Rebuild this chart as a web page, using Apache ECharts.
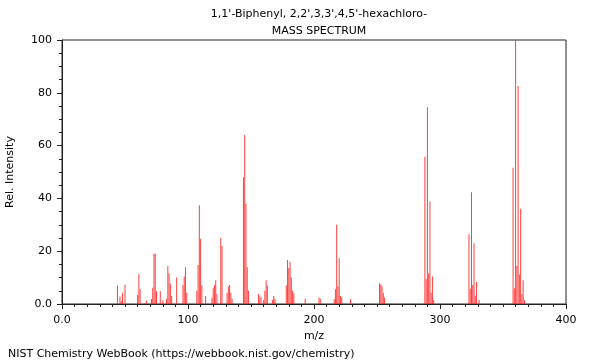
<!DOCTYPE html>
<html><head><meta charset="utf-8">
<script src="https://cdn.jsdelivr.net/npm/echarts@6/dist/echarts.min.js"></script>
<style>html,body{margin:0;padding:0;background:#fff}#c{width:600px;height:360px}</style>
</head><body><div id="c"></div>
<script>
const titleLines = ["1,1'-Biphenyl, 2,2',3,3',4,5'-hexachloro-", "MASS SPECTRUM"];
const xAxisTitle = "m/z";
const yAxisTitle = "Rel. Intensity";
const footerText = "NIST Chemistry WebBook (https://webbook.nist.gov/chemistry)";

const mz = [44,46,47,48,50,
  60,61,62,67,
  71,72,73,74,75,78,80,
  83,84,85,86,87,91,
  96,97,98,99,
  107,108,109,110,111,114,
  119,120,121,122,123,
  126,127,
  131,132,133,134,135,
  144,145,146,147,148,
  156,157,158,160,161,162,163,
  167,168,169,
  178,179,180,181,182,183,184,
  193,204,205,
  216,217,218,219,220,221,222,
  229,
  252,253,254,255,256,
  288,289,290,291,292,293,294,295,
  323,324,325,326,327,328,329,331,
  358,359,360,361,362,363,364,365,366,367];
const relIntensity = [7,2.8,1.2,4.3,7.3,
  3.4,11.4,5.6,1.3,
  1.9,6.2,19,19,4.8,4.8,1.4,
  2,14.4,11.6,7.8,3,10,
  7.2,10.4,13.9,4.3,
  5,14.8,37.4,24.7,7,3,
  2.4,6,7.2,9,3.8,
  25,22,
  4.3,6.6,7.2,4.3,2,
  48,64,38,14,5,
  3.8,2.8,2.5,1.5,5,9,7,
  1.5,3,2,
  7,16.7,13.6,16,10,5,4,
  2,2.5,2,
  1.8,5.6,30,6.6,17.3,3,2.5,
  1.8,
  7.8,7.5,6.6,4.3,2.5,
  55.8,9.4,74.5,11.6,38.8,4.3,10.4,1.5,
  26.4,5.8,42.3,7.2,23,3.1,8.4,1.5,
  51.6,6,100,14.4,82.6,11.2,36,3.8,9,1.5];

const FONT = 'DejaVu Sans';
const chart = echarts.init(document.getElementById('c'), null, {renderer: 'canvas'});
chart.setOption({
  animation: false,
  backgroundColor: '#fff',
  textStyle: {fontFamily: FONT},
  title: [
    {text: titleLines[0], left: 314, top: 4, textAlign: 'center',
     textStyle: {fontFamily: FONT, fontSize: 11, fontWeight: 'normal', color: '#000'}},
    {text: titleLines[1], left: 314, top: 21, textAlign: 'center',
     textStyle: {fontFamily: FONT, fontSize: 11, fontWeight: 'normal', color: '#000'}},
    {text: footerText, left: 3, top: 344,
     textStyle: {fontFamily: FONT, fontSize: 11, fontWeight: 'normal', color: '#000'}}
  ],
  grid: {left: 62, right: 34, top: 40, bottom: 56, show: true, borderColor: '#222', borderWidth: 1,
    backgroundColor: 'transparent', containLabel: false, outerBoundsMode: 'none'},
  xAxis: {
    type: 'value', min: 0, max: 400, interval: 100,
    name: xAxisTitle, nameLocation: 'middle', nameGap: 27,
    nameTextStyle: {fontFamily: FONT, fontSize: 11, color: '#000'},
    axisLine: {show: true, onZero: false, lineStyle: {color: '#222'}},
    axisTick: {show: true, length: 5, lineStyle: {color: '#222'}},
    minorTick: {show: true, splitNumber: 10, length: 3, lineStyle: {color: '#222'}},
    splitLine: {show: false},
    axisLabel: {fontFamily: FONT, fontSize: 11, color: '#000', margin: 11,
      formatter: v => v === 0 ? '0.0' : String(v)}
  },
  yAxis: {
    type: 'value', min: 0, max: 100, interval: 20,
    name: yAxisTitle, nameLocation: 'middle', nameGap: 46,
    nameTextStyle: {fontFamily: FONT, fontSize: 11, color: '#000'},
    axisLine: {show: true, lineStyle: {color: '#222'}},
    axisTick: {show: true, length: 5, lineStyle: {color: '#222'}},
    minorTick: {show: true, splitNumber: 4, length: 3, lineStyle: {color: '#222'}},
    splitLine: {show: false},
    axisLabel: {fontFamily: FONT, fontSize: 11, color: '#000', margin: 10,
      formatter: v => v === 0 ? '0.0' : String(v)}
  },
  series: [{
    type: 'bar',
    data: mz.map((m, i) => [m, relIntensity[i]]),
    barWidth: 1,
    itemStyle: {color: 'rgba(255,30,30,0.85)'},
    silent: true
  }]
});
</script></body></html>
